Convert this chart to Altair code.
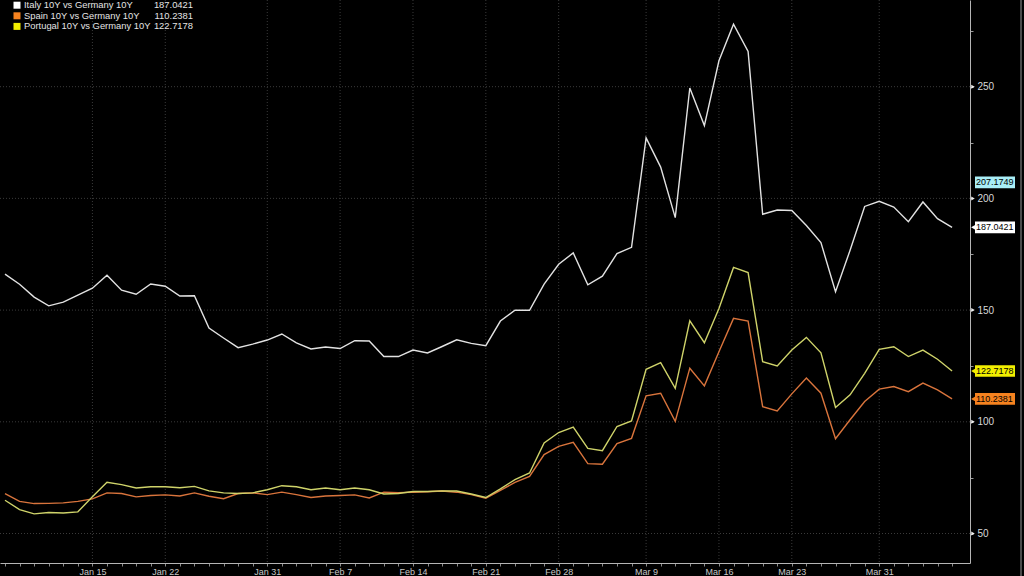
import altair as alt
import pandas as pd

# ---------------- data ----------------
dates = [
    "2020-01-07", "2020-01-08", "2020-01-09", "2020-01-10",
    "2020-01-13", "2020-01-14", "2020-01-15", "2020-01-16", "2020-01-17",
    "2020-01-20", "2020-01-21", "2020-01-22", "2020-01-23", "2020-01-24",
    "2020-01-27", "2020-01-28", "2020-01-29", "2020-01-30", "2020-01-31",
    "2020-02-03", "2020-02-04", "2020-02-05", "2020-02-06", "2020-02-07",
    "2020-02-10", "2020-02-11", "2020-02-12", "2020-02-13", "2020-02-14",
    "2020-02-17", "2020-02-18", "2020-02-19", "2020-02-20", "2020-02-21",
    "2020-02-24", "2020-02-25", "2020-02-26", "2020-02-27", "2020-02-28",
    "2020-03-02", "2020-03-03", "2020-03-04", "2020-03-05", "2020-03-06",
    "2020-03-09", "2020-03-10", "2020-03-11", "2020-03-12", "2020-03-13",
    "2020-03-16", "2020-03-17", "2020-03-18", "2020-03-19", "2020-03-20",
    "2020-03-23", "2020-03-24", "2020-03-25", "2020-03-26", "2020-03-27",
    "2020-03-30", "2020-03-31",
    "2020-04-01", "2020-04-02", "2020-04-03", "2020-04-06", "2020-04-07",
]

italy = [
    166.1, 161.6, 155.8, 151.9, 153.6, 156.7, 159.8, 165.6, 158.9, 157.1,
    161.7, 160.7, 156.3, 156.4, 142.0, 137.5, 133.2, 134.8, 136.6, 139.3,
    135.3, 132.6, 133.5, 132.8, 136.3, 136.2, 129.2, 129.2, 132.1, 130.8,
    133.7, 136.7, 135.1, 134.1, 145.1, 150.0, 149.9, 161.6, 170.5, 175.6,
    161.3, 165.2, 175.3, 178.1, 227.1, 214.0, 191.4, 249.4, 232.6, 261.6,
    278.0, 265.8, 192.9, 194.8, 194.6, 187.9, 180.2, 158.2, 176.8, 196.4,
    198.7, 196.1, 189.6, 198.4, 190.9, 187.0421,
]

spain = [
    67.9, 64.4, 63.4, 63.5, 63.7, 64.4, 65.5, 68.2, 67.9, 66.4,
    67.0, 67.3, 66.8, 68.2, 66.7, 65.6, 67.9, 68.2, 67.4, 68.5,
    67.4, 66.1, 66.8, 67.0, 67.3, 65.9, 68.5, 68.3, 68.5, 68.7,
    69.0, 68.5, 67.4, 65.8, 69.3, 72.9, 75.6, 85.3, 89.0, 90.8,
    81.3, 81.0, 90.2, 92.6, 111.6, 112.8, 100.2, 124.0, 116.1, 131.4,
    146.3, 145.1, 106.8, 104.9, 112.5, 119.6, 112.8, 92.4, 100.9, 109.1,
    114.6, 115.8, 113.5, 117.3, 114.3, 110.2381,
]

portugal = [
    64.9, 60.7, 58.8, 59.4, 59.2, 59.7, 66.5, 72.9, 71.9, 70.4,
    70.9, 70.9, 70.5, 71.1, 69.1, 68.2, 67.9, 68.2, 69.6, 71.4,
    70.9, 69.6, 70.4, 69.6, 70.4, 69.6, 67.7, 67.9, 68.8, 68.8,
    69.1, 69.0, 67.7, 66.1, 70.0, 74.1, 77.1, 90.5, 95.2, 97.6,
    88.1, 87.1, 97.9, 100.4, 123.5, 126.5, 115.0, 145.2, 135.4, 150.7,
    169.1, 166.8, 126.9, 125.0, 132.1, 137.8, 130.9, 106.4, 112.1, 121.7,
    132.4, 133.6, 129.2, 132.1, 128.0, 122.7178,
]

series_names = ["Italy 10Y vs Germany 10Y", "Spain 10Y vs Germany 10Y", "Portugal 10Y vs Germany 10Y"]
series_last = ["187.0421", "110.2381", "122.7178"]
line_colors = ["#e2e2e2", "#d9743c", "#cfd36a"]
legend_colors = ["#ffffff", "#f5821f", "#f2ee00"]

# extra reference tag on the price axis
extra_tag_value = [207.1749]
extra_tag_label = ["207.1749"]
extra_tag_color = ["#a9eef6"]

x_label_idx = [6, 11, 18, 23, 28, 33, 38, 44, 49, 54, 60]
x_labels = ["Jan 15", "Jan 22", "Jan 31", "Feb 7", "Feb 14", "Feb 21",
            "Feb 28", "Mar 9", "Mar 16", "Mar 23", "Mar 31"]
y_major = [50, 100, 150, 200, 250]
y_minor = [50, 75, 100, 125, 150, 175, 200, 225, 250, 275]

# ---------------- tables ----------------
rows = []
for name, vals in zip(series_names, [italy, spain, portugal]):
    for i, (d, v) in enumerate(zip(dates, vals)):
        rows.append({"idx": i, "date": d, "series": name, "value": v})
df = pd.DataFrame(rows)

tags = pd.DataFrame({
    "value": [italy[-1], spain[-1], portugal[-1]] + extra_tag_value,
    "label": series_last + extra_tag_label,
    "bg": legend_colors + extra_tag_color,
    "arrow": [True, True, True, False],
})
tags["lo"] = tags["value"] - 2.6
tags["hi"] = tags["value"] + 2.6

legend_df = pd.DataFrame({
    "row": [0, 1, 2],
    "name": series_names,
    "val": series_last,
    "color": legend_colors,
})

FONT = "Liberation Sans, Arial, sans-serif"
W, H = 970, 563
xs = alt.Scale(domain=[-0.343, 66.23], nice=False, zero=False)
ys = alt.Scale(domain=[36.8, 288.8], nice=False, zero=False)

x_expr = "".join(f"datum.value == {i} ? '{l}' : " for i, l in zip(x_label_idx, x_labels)) + "''"

# ---------------- layers ----------------
hgrid = alt.Chart(pd.DataFrame({"v": y_major})).mark_rule(
    color="#3a3a3a", strokeDash=[1, 2], strokeWidth=1
).encode(y=alt.Y("v:Q", scale=ys, axis=None))

vgrid = alt.Chart(pd.DataFrame({"i": x_label_idx})).mark_rule(
    color="#3a3a3a", strokeDash=[1, 2], strokeWidth=1
).encode(x=alt.X("i:Q", scale=xs, axis=None))

lines = alt.Chart(df).mark_line(strokeWidth=1.4).encode(
    x=alt.X("idx:Q", scale=xs, axis=alt.Axis(
        orient="bottom", values=list(range(len(dates))), labelExpr=x_expr,
        grid=False, title=None, tickSize=3, tickColor="#8a8a8a",
        domainColor="#b5b5b5", labelColor="#c8c8c8", labelFont=FONT,
        labelFontSize=9, labelPadding=1, labelOverlap=False, labelFlush=False,
        labelBound=False)),
    y=alt.Y("value:Q", scale=ys, axis=alt.Axis(
        orient="right", values=y_minor,
        labelExpr="datum.value % 50 == 0 ? datum.label : ''",
        grid=False, title=None, tickSize=3, tickColor="#9a9a9a",
        domainColor="#b5b5b5", labelColor="#d8d8d8", labelFont=FONT,
        labelFontSize=10, labelPadding=4)),
    color=alt.Color("series:N", scale=alt.Scale(domain=series_names, range=line_colors), legend=None),
    order=alt.Order("idx:Q"),
)

major_marks = alt.Chart(pd.DataFrame({"v": y_major})).mark_point(
    shape="triangle-right", filled=True, size=16, color="#f0f0f0", opacity=1
).encode(y=alt.Y("v:Q", scale=ys, axis=None), x=alt.value(W + 3))

tag_rect = alt.Chart(tags).mark_rect().encode(
    y=alt.Y("lo:Q", scale=ys, axis=None), y2="hi:Q",
    x=alt.value(W + 5), x2=alt.value(W + 45),
    color=alt.Color("bg:N", scale=None),
)
tag_arrow = alt.Chart(tags).transform_filter("datum.arrow").mark_point(
    shape="triangle-left", filled=True, size=45, opacity=1
).encode(
    y=alt.Y("value:Q", scale=ys, axis=None), x=alt.value(W + 4),
    color=alt.Color("bg:N", scale=None),
)
tag_text = alt.Chart(tags).mark_text(
    align="left", baseline="middle", font=FONT, fontSize=9, color="#000000"
).encode(
    y=alt.Y("value:Q", scale=ys, axis=None), x=alt.value(W + 6),
    text="label:N",
)

ly = alt.Scale(domain=[0, 2], range=[5.2, 26.4])
leg_sq = alt.Chart(legend_df).mark_square(size=49, filled=True, opacity=1).encode(
    y=alt.Y("row:Q", scale=ly, axis=None), x=alt.value(17),
    color=alt.Color("color:N", scale=None),
)
leg_name = alt.Chart(legend_df).mark_text(
    align="left", baseline="middle", font=FONT, fontSize=9.4, color="#e4e4e4"
).encode(y=alt.Y("row:Q", scale=ly, axis=None), x=alt.value(24), text="name:N")
leg_val = alt.Chart(legend_df).mark_text(
    align="right", baseline="middle", font=FONT, fontSize=9.4, color="#e4e4e4"
).encode(y=alt.Y("row:Q", scale=ly, axis=None), x=alt.value(193), text="val:N")

edge = alt.Chart(pd.DataFrame({"a": [0]})).mark_rule(color="#4a4a4a", strokeWidth=2).encode(
    x=alt.value(1021), y=alt.value(0), y2=alt.value(576)
)

chart = alt.layer(
    hgrid, vgrid, lines, major_marks, tag_rect, tag_arrow, tag_text,
    leg_sq, leg_name, leg_val, edge
).resolve_scale(
    x="independent", y="independent", color="independent"
).properties(
    width=W, height=H,
    autosize=alt.AutoSizeParams(type="none"),
    padding={"left": 0, "top": 0, "right": 54, "bottom": 13},
    background="#000000",
).configure_view(strokeWidth=0)

chart.save("out.html", embed_options={"renderer": "svg", "actions": False})
